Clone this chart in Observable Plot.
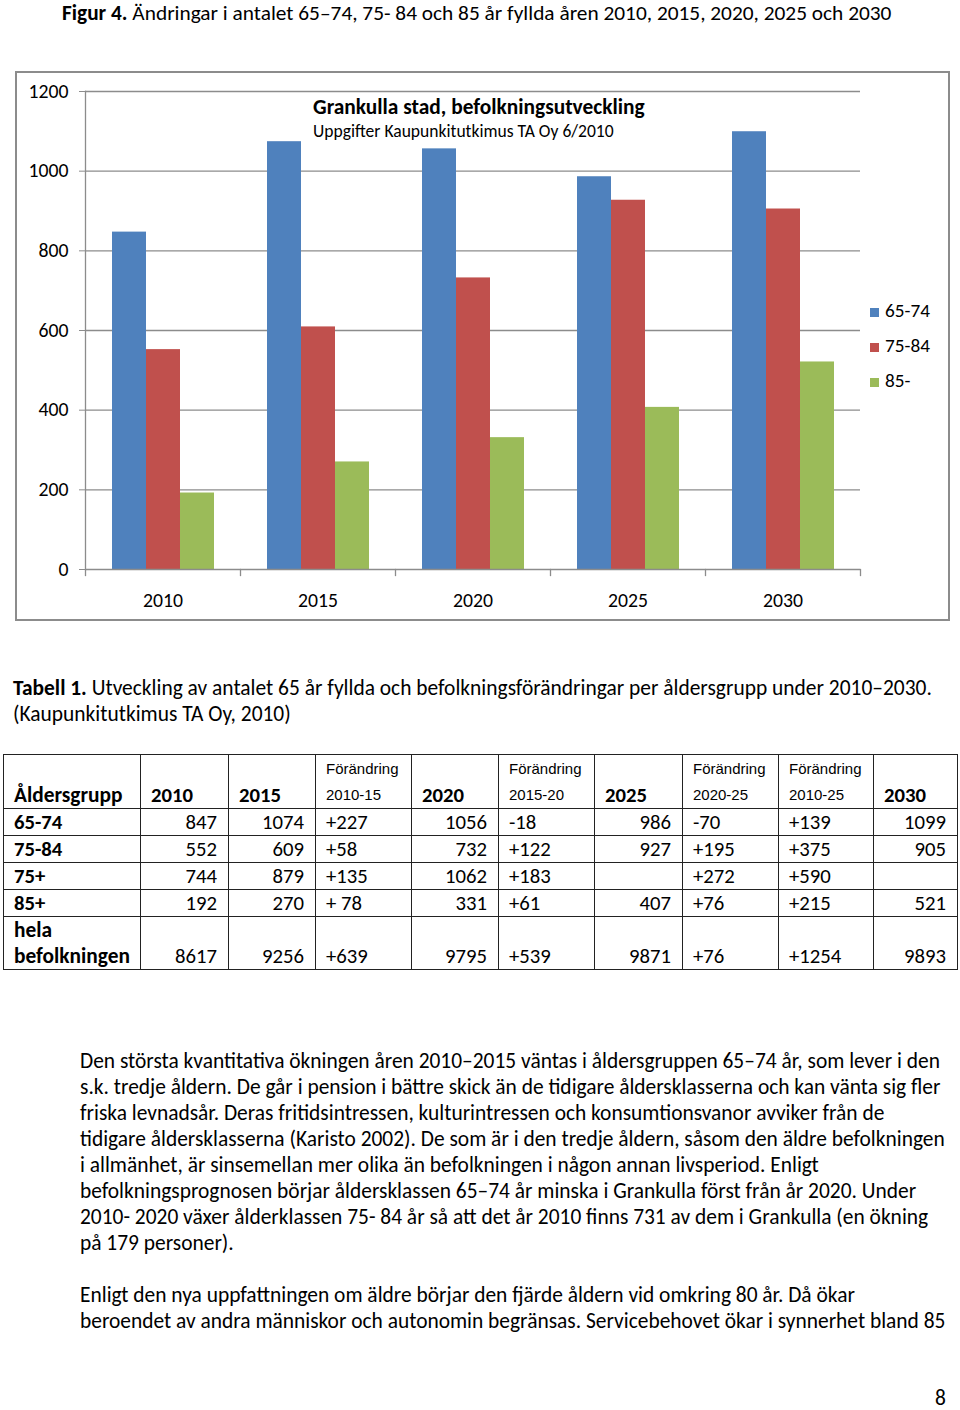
<!DOCTYPE html>
<html><head><meta charset="utf-8">
<script src="https://cdn.jsdelivr.net/npm/d3@7"></script>
<script src="https://cdn.jsdelivr.net/npm/@observablehq/plot@0.6"></script>
<style>
:root{--ff:Carlito,Lato,"Open Sans",sans-serif;--fsTitle:19px;--lhTitle:24px;--fsBody:19px;--fsCap:19px;--fsCT:19px;--fsCS:15px;--fsLeg:17px;--fsLab:19px;--fsNum:18px;}
body{margin:0;background:#fff;font-family:var(--ff);color:#000;}
#page{position:relative;width:960px;height:1410px;overflow:hidden;background:#fff;}
.abs{position:absolute;white-space:nowrap;}
.txt{line-height:26px;}
#title{left:62px;top:0px;line-height:var(--lhTitle);font-size:var(--fsTitle);}
#box{position:absolute;left:15px;top:71px;width:931px;height:546px;border:2px solid #8c8c8c;background:#fff;}
#chart{position:absolute;left:0;top:0;}
#ctitle{left:296px;top:22px;font-size:var(--fsCT);font-weight:bold;line-height:24px;}
#csub{left:296px;top:47px;font-size:var(--fsCS);line-height:22px;}
.leg{position:absolute;left:853px;font-size:var(--fsLeg);line-height:24px;}
.leg i{display:inline-block;width:9px;height:9px;margin-right:6px;vertical-align:0px;}
table{position:absolute;left:3px;top:754px;border-collapse:collapse;table-layout:fixed;}
td{border:1.5px solid #222;padding:0 10px;vertical-align:bottom;line-height:26px;white-space:nowrap;overflow:hidden;font-size:var(--fsNum);}
td.num{text-align:right;padding-right:11px;}
td.lab{font-weight:bold;font-size:var(--fsLab);}
td.labn{font-weight:bold;}
.ar{font-family:"Liberation Sans",Arial,sans-serif;font-size:15px !important;}
.hb{font-weight:bold;}
</style></head><body><div id="page">
<div id="title" class="abs"><b>Figur 4.</b> Ändringar i antalet 65–74, 75- 84 och 85 år fyllda åren 2010, 2015, 2020, 2025 och 2030</div>
<div id="box">
  <div id="chart"></div>
  <div id="ctitle" class="abs">Grankulla stad, befolkningsutveckling</div>
  <div id="csub" class="abs">Uppgifter Kaupunkitutkimus TA Oy 6/2010</div>
  <div id="legend"></div>
</div>
<div class="abs txt" style="left:13px;top:675px;font-size:var(--fsCap)"><b>Tabell 1.</b> Utveckling av antalet 65 år fyllda och befolkningsförändringar per åldersgrupp under 2010–2030.<br>(Kaupunkitutkimus TA Oy, 2010)</div>
<table id="tab"></table>
<div class="abs txt" style="left:80px;top:1048px;font-size:var(--fsBody)">Den största kvantitativa ökningen åren 2010–2015 väntas i åldersgruppen 65–74 år, som lever i den<br>s.k. tredje åldern. De går i pension i bättre skick än de tidigare åldersklasserna och kan vänta sig fler<br>friska levnadsår. Deras fritidsintressen, kulturintressen och konsumtionsvanor avviker från de<br>tidigare åldersklasserna (Karisto 2002). De som är i den tredje åldern, såsom den äldre befolkningen<br>i allmänhet, är sinsemellan mer olika än befolkningen i någon annan livsperiod. Enligt<br>befolkningsprognosen börjar åldersklassen 65–74 år minska i Grankulla först från år 2020. Under<br>2010- 2020 växer ålderklassen 75- 84 år så att det år 2010 finns 731 av dem i Grankulla (en ökning<br>på 179 personer).<br><br>Enligt den nya uppfattningen om äldre börjar den fjärde åldern vid omkring 80 år. Då ökar<br>beroendet av andra människor och autonomin begränsas. Servicebehovet ökar i synnerhet bland 85</div>
<div class="abs txt" style="left:935px;top:1385px;font-size:var(--fsBody)">8</div>
</div>
<script>
// ---- chart data ----
const years = ["2010", "2015", "2020", "2025", "2030"];
const series = ["65-74", "75-84", "85-"];
const values6574 = [847, 1074, 1056, 986, 1099];
const values7584 = [552, 609, 732, 927, 905];
const values85 = [192, 270, 331, 407, 521];
const seriesColors = ["#4F81BD", "#C0504D", "#9BBB59"];
const yTicks = [0, 200, 400, 600, 800, 1000, 1200];

// ---- table data ----
const tableYearHeads = ["2010", "2015", "2020", "2025", "2030"];
const tableChangeHeads = ["2010-15", "2015-20", "2020-25", "2010-25"];
const rowLabels = ["65-74", "75-84", "75+", "85+", "hela<br>befolkningen"];
const col2010 = ["847", "552", "744", "192", "8617"];
const col2015 = ["1074", "609", "879", "270", "9256"];
const chg1015 = ["+227", "+58", "+135", "+ 78", "+639"];
const col2020 = ["1056", "732", "1062", "331", "9795"];
const chg1520 = ["-18", "+122", "+183", "+61", "+539"];
const col2025 = ["986", "927", "", "407", "9871"];
const chg2025 = ["-70", "+195", "+272", "+76", "+76"];
const chg1025 = ["+139", "+375", "+590", "+215", "+1254"];
const col2030 = ["1099", "905", "", "521", "9893"];

// ---- font size calibration (match reference text widths) ----
const FF = 'Carlito, Lato, "Open Sans", sans-serif';
const cv = document.createElement("canvas").getContext("2d");
function w100(text, weight) { cv.font = `${weight} 100px ${FF}`; return cv.measureText(text).width; }
function fit(parts, target) { const w = parts.reduce((a, [t, wt]) => a + w100(t, wt), 0); return 100 * target / w; }
const root = document.documentElement.style;
const titleFs = fit([["Figur 4.", "bold"], [" Ändringar i antalet 65–74, 75- 84 och 85 år fyllda åren 2010, 2015, 2020, 2025 och 2030", "normal"]], 830);
root.setProperty("--fsTitle", titleFs + "px");
root.setProperty("--lhTitle", Math.ceil(titleFs * 1.2) + 1 + "px");
root.setProperty("--fsCap", fit([["Tabell 1.", "bold"], [" Utveckling av antalet 65 år fyllda och befolkningsförändringar per åldersgrupp under 2010–2030.", "normal"]], 919) + "px");
root.setProperty("--fsBody", fit([["s.k. tredje åldern. De går i pension i bättre skick än de tidigare åldersklasserna och kan vänta sig fler", "normal"]], 861) + "px");
root.setProperty("--fsCT", fit([["Grankulla stad, befolkningsutveckling", "bold"]], 332) + "px");
root.setProperty("--fsCS", fit([["Uppgifter Kaupunkitutkimus TA Oy 6/2010", "normal"]], 301) + "px");
root.setProperty("--fsLeg", fit([["65-74", "normal"]], 45) + "px");
root.setProperty("--fsLab", fit([["befolkningen", "bold"]], 116) + "px");
root.setProperty("--fsNum", fit([["9256", "normal"]], 42) + "px");
const fsTick = fit([["1200", "normal"]], 40);

const valueSets = [values6574, values7584, values85];
const data = [];
years.forEach((y, i) => series.forEach((s, j) => data.push({year: y, series: s, value: valueSets[j][i]})));

const gray = "#8c8c8c";
const W = 931, H = 546, mT = 18, mB = 50, mL = 68, mR = 88;
const plotH = H - mT - mB;

const chart = Plot.plot({
  width: W, height: H,
  marginTop: mT, marginBottom: mB, marginLeft: mL, marginRight: mR,
  style: {fontFamily: FF, fontSize: fsTick + "px", color: "#000", background: "transparent", overflow: "visible"},
  fx: {domain: years, padding: 0, label: null, axis: null},
  x: {domain: series, paddingInner: 0, paddingOuter: 0.75, axis: null},
  y: {domain: [0, 1200], axis: null},
  color: {domain: series, range: seriesColors},
  marks: [
    Plot.gridY(yTicks.slice(1), {stroke: gray, strokeOpacity: 1, strokeWidth: 1.3}),
    Plot.barY(data, {fx: "year", x: "series", y: "value", fill: "series"}),
    Plot.ruleY([0], {stroke: gray, strokeWidth: 1.3}),
    Plot.frame({anchor: "left", stroke: gray, strokeWidth: 1.3, facetAnchor: "left"}),
    Plot.frame({anchor: "left", stroke: gray, strokeWidth: 1.3, insetTop: plotH, insetBottom: -6}),
    Plot.frame({anchor: "right", stroke: gray, strokeWidth: 1.3, insetTop: plotH, insetBottom: -6, facetAnchor: "right"}),
    Plot.axisY({ticks: yTicks, tickSize: 6, tickPadding: 11, stroke: gray, fill: "#000", tickFormat: d => String(d), label: null}),
    Plot.axisFx({tickSize: 0, tickPadding: 23, label: null, anchor: "bottom", fill: "#000"})
  ]
});
document.getElementById("chart").appendChild(chart);

// legend
const legend = document.getElementById("legend");
series.forEach((s, i) => {
  const d = document.createElement("div");
  d.className = "leg";
  d.style.top = (226 + i * 35) + "px";
  d.innerHTML = `<i style="background:${seriesColors[i]}"></i>${s}`;
  legend.appendChild(d);
});

// table
const colWidths = [137, 88, 87, 96, 87, 96, 88, 96, 95, 84];
const tab = document.getElementById("tab");
const cg = document.createElement("colgroup");
colWidths.forEach(w => { const c = document.createElement("col"); c.style.width = w + "px"; cg.appendChild(c); });
tab.appendChild(cg);
const hdr = `<tr style="height:54px">
<td class="lab">Åldersgrupp</td>
<td class="hb">${tableYearHeads[0]}</td><td class="hb">${tableYearHeads[1]}</td>
<td class="ar">Förändring<br>${tableChangeHeads[0]}</td>
<td class="hb">${tableYearHeads[2]}</td>
<td class="ar">Förändring<br>${tableChangeHeads[1]}</td>
<td class="hb">${tableYearHeads[3]}</td>
<td class="ar">Förändring<br>${tableChangeHeads[2]}</td>
<td class="ar">Förändring<br>${tableChangeHeads[3]}</td>
<td class="hb">${tableYearHeads[4]}</td></tr>`;
let rows = hdr;
rowLabels.forEach((lab, i) => {
  const last = i === rowLabels.length - 1;
  const h = last ? 53 : 27;
  rows += `<tr style="height:${h}px"><td class="${last ? "lab" : "labn"}">${lab}</td>
<td class="num">${col2010[i]}</td><td class="num">${col2015[i]}</td><td>${chg1015[i]}</td>
<td class="num">${col2020[i]}</td><td>${chg1520[i]}</td><td class="num">${col2025[i]}</td>
<td>${chg2025[i]}</td><td>${chg1025[i]}</td><td class="num">${col2030[i]}</td></tr>`;
});
tab.innerHTML += rows;
</script>
</body></html>
